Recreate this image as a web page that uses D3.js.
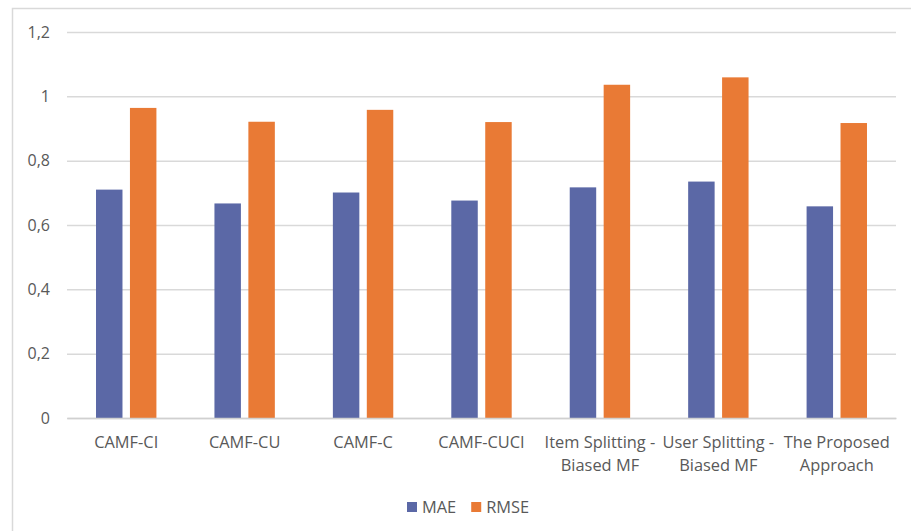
<!DOCTYPE html>
<html>
<head>
<meta charset="utf-8">
<script src="https://cdn.jsdelivr.net/npm/d3@7"></script>
<style>
  html, body { margin: 0; padding: 0; background: #ffffff; }
  svg { display: block; }
  text { font-family: "Open Sans", "Liberation Sans", sans-serif; fill: #595959; }
</style>
</head>
<body>
<svg id="chart" width="911" height="531"></svg>
<script>
// Methods compared (two-line labels split on "\n")
const categories = [
  "CAMF-CI",
  "CAMF-CU",
  "CAMF-C",
  "CAMF-CUCI",
  "Item Splitting -\nBiased MF",
  "User Splitting -\nBiased MF",
  "The Proposed\nApproach"
];
const seriesNames = ["MAE", "RMSE"];
const maeValues  = [0.710, 0.667, 0.701, 0.676, 0.717, 0.735, 0.658];
const rmseValues = [0.964, 0.921, 0.958, 0.920, 1.036, 1.059, 0.917];
const yTicks = [0, 0.2, 0.4, 0.6, 0.8, 1, 1.2];
const colors = ["#5b68a6", "#e97a35"];

const svg = d3.select("#chart");
const W = 911, H = 531;
const plot = { left: 67, right: 896, top: 32, bottom: 418 };

// Chart frame
svg.append("rect")
  .attr("x", 12.5).attr("y", 8.5)
  .attr("width", W + 10).attr("height", H + 10)
  .attr("fill", "#ffffff")
  .attr("stroke", "#d9d9d9").attr("stroke-width", 1.5);

const x0 = d3.scaleBand().domain(categories).range([plot.left, plot.right]).paddingInner(0).paddingOuter(0);
const groupW = x0.bandwidth() * 0.51;
const x1 = d3.scaleBand().domain(seriesNames)
  .range([(x0.bandwidth() - groupW) / 2, (x0.bandwidth() + groupW) / 2])
  .paddingInner(0.22);
const y = d3.scaleLinear().domain([0, 1.2]).range([plot.bottom, plot.top]);

// Gridlines and y labels
const yAxis = d3.axisLeft(y)
  .tickValues(yTicks)
  .tickSize(-(plot.right - plot.left))
  .tickPadding(17)
  .tickFormat(d => d3.format("~g")(d).replace(".", ","));
const gy = svg.append("g").attr("transform", `translate(${plot.left},0)`).call(yAxis);
gy.select(".domain").remove();
gy.selectAll(".tick line").attr("stroke", "#d9d9d9").attr("stroke-width", 1.5);
gy.selectAll(".tick text").attr("font-size", 16).attr("fill", "#595959");

// Bars
const rows = categories.map((c, i) => ({ cat: c, vals: [maeValues[i], rmseValues[i]] }));
const groups = svg.append("g").selectAll("g").data(rows).join("g")
  .attr("transform", d => `translate(${x0(d.cat)},0)`);
groups.selectAll("rect")
  .data(d => d.vals.map((v, k) => ({ key: seriesNames[k], v, k })))
  .join("rect")
  .attr("x", d => x1(d.key))
  .attr("width", x1.bandwidth())
  .attr("y", d => y(d.v))
  .attr("height", d => y(0) - y(d.v))
  .attr("fill", d => colors[d.k]);

// Category axis
const xAxis = d3.axisBottom(x0).tickSize(0).tickPadding(0).tickFormat("");
const gx = svg.append("g").attr("transform", `translate(0,${plot.bottom})`).call(xAxis);
gx.select(".domain").attr("stroke", "#d0d0d0").attr("stroke-width", 1.5);
gx.selectAll(".tick").each(function(d) {
  const t = d3.select(this).append("text")
    .attr("text-anchor", "middle")
    .attr("font-size", 16.4)
    .attr("fill", "#595959");
  d.split("\n").forEach((line, i) => {
    t.append("tspan").attr("x", 0).attr("y", 30 + i * 23).text(line);
  });
});

// Legend
const legend = svg.append("g").attr("transform", "translate(407,507)");
let lx = 0;
seriesNames.forEach((name, k) => {
  const g = legend.append("g").attr("transform", `translate(${lx},0)`);
  g.append("rect").attr("x", 0).attr("y", -5).attr("width", 10).attr("height", 10).attr("fill", colors[k]);
  const t = g.append("text").attr("x", 15).attr("y", 6).attr("font-size", 16.4).text(name);
  lx += 15 + t.node().getComputedTextLength() + 15;
});
</script>
</body>
</html>
